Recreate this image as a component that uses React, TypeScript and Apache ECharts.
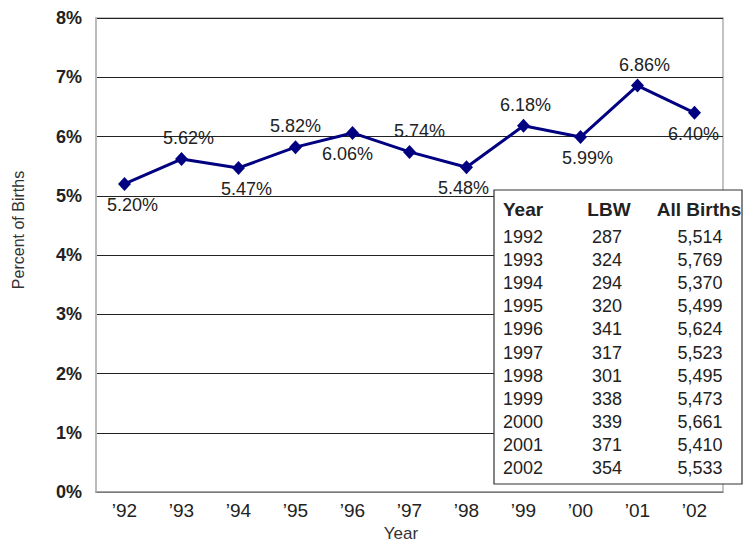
import React, { useEffect, useRef } from "react";
import * as echarts from "echarts";

const yearLabels = ["’92", "’93", "’94", "’95", "’96", "’97", "’98", "’99", "’00", "’01", "’02"];
const pctValues = [5.2, 5.62, 5.47, 5.82, 6.06, 5.74, 5.48, 6.18, 5.99, 6.86, 6.4];
const yTicks = [0, 1, 2, 3, 4, 5, 6, 7, 8];

const tableYears = ["1992", "1993", "1994", "1995", "1996", "1997", "1998", "1999", "2000", "2001", "2002"];
const tableLbw = ["287", "324", "294", "320", "341", "317", "301", "338", "339", "371", "354"];
const tableAll = ["5,514", "5,769", "5,370", "5,499", "5,624", "5,523", "5,495", "5,473", "5,661", "5,410", "5,533"];

// label styling (placement only)
const labelPos = ["bottom", "top", "bottom", "top", "bottom", "top", "bottom", "top", "bottom", "top", "bottom"];
const labelDx = [8, 7, 8, 0, -5, 10, -3, 2, 7, 7, -1];

const FONT = "'Liberation Sans', Arial, sans-serif";

export default function App() {
  const ref = useRef<HTMLDivElement>(null);

  useEffect(() => {
    if (!ref.current) return;
    const chart = echarts.init(ref.current, undefined, { renderer: "svg" });

    const tableX = 494;
    const tableY = 190;
    const rowStart = 237;
    const rowStep = 23.1;
    const Z = 100;

    const tableChildren: any[] = [
      {
        type: "rect",
        z: Z,
        shape: { x: tableX, y: tableY, width: 248, height: 294 },
        style: { fill: "#fff", stroke: "#333", lineWidth: 1.2 },
      },
      {
        type: "text",
        z: Z + 1,
        style: { text: "Year", x: 503, y: 209, textAlign: "left", textVerticalAlign: "middle", font: `bold 19px ${FONT}`, fill: "#222" },
      },
      {
        type: "text",
        z: Z + 1,
        style: { text: "LBW", x: 609, y: 209, textAlign: "center", textVerticalAlign: "middle", font: `bold 19px ${FONT}`, fill: "#222" },
      },
      {
        type: "text",
        z: Z + 1,
        style: { text: "All Births", x: 699, y: 209, textAlign: "center", textVerticalAlign: "middle", font: `bold 19px ${FONT}`, fill: "#222" },
      },
    ];
    tableYears.forEach((yr, i) => {
      const y = rowStart + rowStep * i;
      tableChildren.push(
        { type: "text", z: Z + 1, style: { text: yr, x: 503, y, textAlign: "left", textVerticalAlign: "middle", font: `18px ${FONT}`, fill: "#222" } },
        { type: "text", z: Z + 1, style: { text: tableLbw[i], x: 607, y, textAlign: "center", textVerticalAlign: "middle", font: `18px ${FONT}`, fill: "#222" } },
        { type: "text", z: Z + 1, style: { text: tableAll[i], x: 700, y, textAlign: "center", textVerticalAlign: "middle", font: `18px ${FONT}`, fill: "#222" } }
      );
    });

    chart.setOption({
      animation: false,
      backgroundColor: "#fff",
      grid: {
        left: 96,
        right: 22,
        top: 18,
        bottom: 51,
        show: true,
        borderColor: "#b0b0b0",
        borderWidth: 1.5,
      },
      xAxis: {
        type: "category",
        data: yearLabels,
        boundaryGap: true,
        axisLine: { show: true, lineStyle: { color: "#999", width: 1.5 } },
        axisTick: { show: false },
        axisLabel: { color: "#222", fontFamily: FONT, fontSize: 19, margin: 9 },
        splitLine: { show: false },
      },
      yAxis: {
        type: "value",
        min: yTicks[0],
        max: yTicks[yTicks.length - 1],
        interval: 1,
        axisLine: { show: true, lineStyle: { color: "#bbb", width: 2 } },
        axisTick: { show: false },
        axisLabel: {
          color: "#222",
          fontFamily: FONT,
          fontSize: 18,
          fontWeight: "bold",
          margin: 14,
          formatter: (v: number) => `${v}%`,
        },
        splitLine: { show: true, lineStyle: { color: "#222", width: 1 } },
      },
      series: [
        {
          type: "line",
          data: pctValues.map((v, i) => ({
            value: v,
            label: { position: labelPos[i], offset: [labelDx[i], 0] },
          })),
          symbol: "diamond",
          symbolSize: [13, 14],
          itemStyle: { color: "#000080" },
          lineStyle: { color: "#000080", width: 3 },
          label: {
            show: true,
            distance: 5,
            color: "#222",
            fontFamily: FONT,
            fontSize: 18,
            formatter: (p: any) => `${p.value.toFixed(2)}%`,
          },
          z: 3,
        },
      ],
      graphic: [
        {
          type: "text",
          x: 18,
          y: 230,
          rotation: Math.PI / 2,
          style: {
            text: "Percent of Births",
            textAlign: "center",
            textVerticalAlign: "middle",
            font: `16px ${FONT}`,
            fill: "#333",
          },
        },
        {
          type: "text",
          style: {
            text: "Year",
            x: 401,
            y: 533,
            textAlign: "center",
            textVerticalAlign: "middle",
            font: `17px ${FONT}`,
            fill: "#333",
          },
        },
        {
          type: "group",
          z: Z,
          children: tableChildren,
        },
      ],
    });

    return () => chart.dispose();
  }, []);

  return <div ref={ref} style={{ width: 745, height: 543, position: "absolute", left: 0, top: 0 }} />;
}
